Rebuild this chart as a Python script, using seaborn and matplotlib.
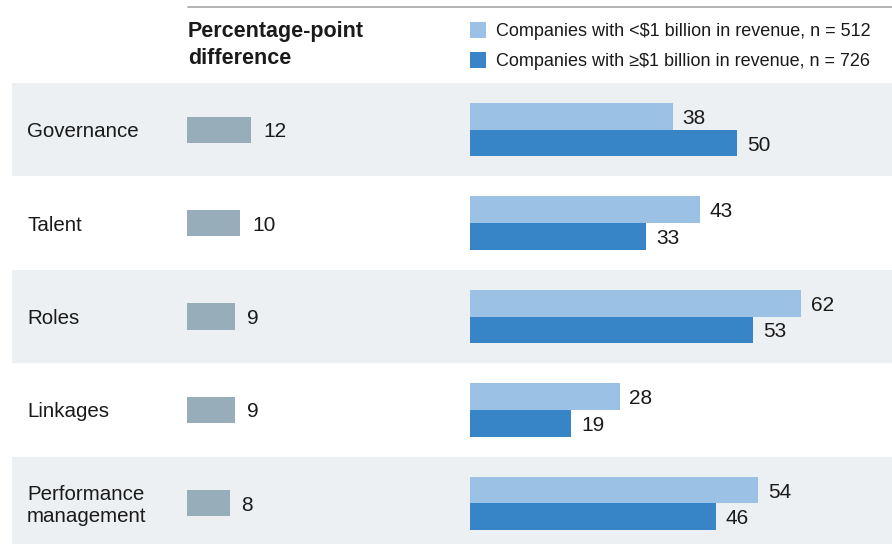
import matplotlib
matplotlib.use("Agg")
import matplotlib.pyplot as plt
import seaborn as sns
import pandas as pd
from matplotlib.patches import Rectangle

# Chart data
categories = ["Governance", "Talent", "Roles", "Linkages", "Performance\nmanagement"]
series_names = [
    "Companies with <$1 billion in revenue, n = 512",
    "Companies with \u2265$1 billion in revenue, n = 726",
]
small_companies = [38, 43, 62, 28, 54]
large_companies = [50, 33, 53, 19, 46]
pp_difference = [12, 10, 9, 9, 8]

LIGHT = "#9bc1e4"
DARK = "#3784c6"
GRAY_BAR = "#97adb9"
BAND = "#edf0f2"
TEXT = "#1a1a1a"

sns.set_theme(style="white")
plt.rcParams["font.family"] = ["Liberation Sans", "DejaVu Sans"]

W, H = 892, 544
fig = plt.figure(figsize=(W / 100, H / 100), dpi=100)


def px_axes(x0, y0, x1, y1):
    return fig.add_axes([x0 / W, 1 - y1 / H, (x1 - x0) / W, (y1 - y0) / H])


# Background layer in pixel units
ax_bg = fig.add_axes([0, 0, 1, 1], zorder=0)
ax_bg.set_xlim(0, W)
ax_bg.set_ylim(H, 0)
ax_bg.axis("off")

top, bottom = 83, 550
row_h = (bottom - top) / len(categories)
for i, cat in enumerate(categories):
    y0 = top + i * row_h
    if i % 2 == 0:
        ax_bg.add_patch(Rectangle((12, y0), W - 12, row_h, color=BAND, lw=0))
    ax_bg.text(27, y0 + row_h / 2 + 2, cat, ha="left", va="center",
               multialignment="left", fontsize=14.8, color=TEXT,
               linespacing=1.2)

ax_bg.plot([188, W], [7, 7], color="#a6a6a6", lw=1.2)

ax_bg.text(188, 32, "Percentage-point", ha="left", va="center",
           fontsize=15.5, fontweight="bold", color=TEXT)
ax_bg.text(188, 58, "difference", ha="left", va="center",
           fontsize=15.5, fontweight="bold", color=TEXT)

for j, (name, col) in enumerate(zip(series_names, [LIGHT, DARK])):
    yc = 30 + j * 30
    ax_bg.add_patch(Rectangle((470, yc - 8), 16, 16, color=col, lw=0))
    ax_bg.text(496, yc + 2, name, ha="left", va="center", fontsize=13, color=TEXT)

SCALE = 5.34  # pixels per percentage point


def value_labels(ax, pad):
    for c in ax.containers:
        for t in ax.bar_label(c, padding=pad, fontsize=15, color=TEXT):
            t.xyann = (t.xyann[0], -1.5)


# Percentage-point difference bars
ax_d = px_axes(187, top, 420, bottom)
ax_d.patch.set_alpha(0)
sns.barplot(x=pp_difference, y=categories, color=GRAY_BAR, saturation=1,
            width=0.28, orient="h", linewidth=0, ax=ax_d)
ax_d.set_xlim(0, (420 - 187) / SCALE)
ax_d.set_ylim(len(categories) - 0.5, -0.5)
ax_d.axis("off")
value_labels(ax_d, 8.5)

# Grouped bars by company size
df = pd.DataFrame({
    "category": categories * 2,
    "series": [series_names[0]] * len(categories) + [series_names[1]] * len(categories),
    "value": small_companies + large_companies,
})
ax_m = px_axes(470, top, W, bottom)
ax_m.patch.set_alpha(0)
sns.barplot(data=df, y="category", x="value", hue="series",
            hue_order=series_names, palette=[LIGHT, DARK], saturation=1,
            width=0.57, orient="h", legend=False, linewidth=0, ax=ax_m)
ax_m.set_xlim(0, (W - 470) / SCALE)
ax_m.set_ylim(len(categories) - 0.5, -0.5)
ax_m.axis("off")
value_labels(ax_m, 7)

fig.savefig("out.png", dpi=100)
